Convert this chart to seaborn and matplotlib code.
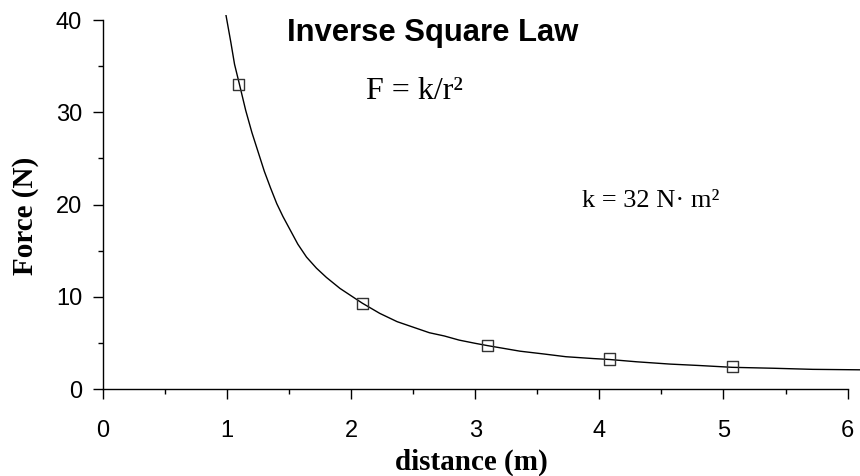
import matplotlib
matplotlib.use("Agg")
import matplotlib.pyplot as plt
from matplotlib.ticker import MultipleLocator
import seaborn as sns
import pandas as pd

# Measured forces at each separation
distance_m = [1.09, 2.09, 3.10, 4.08, 5.07]
force_n = [33.0, 9.3, 4.7, 3.25, 2.4]

# Fitted curve through the measurements
curve_r = [0.99, 1.03, 1.06, 1.10, 1.15, 1.20, 1.25, 1.30, 1.35, 1.40, 1.45,
           1.51, 1.57, 1.64, 1.72, 1.80, 1.91, 2.00, 2.09, 2.23, 2.37, 2.50,
           2.63, 2.75, 2.87, 3.00, 3.10, 3.36, 3.55, 3.73, 3.95, 4.08, 4.30,
           4.57, 4.80, 5.07, 5.40, 5.72, 6.10]
curve_f = [40.6, 37.6, 35.2, 33.0, 30.2, 27.8, 25.7, 23.6, 21.8, 20.1, 18.7,
           17.2, 15.7, 14.3, 13.1, 12.1, 10.9, 10.1, 9.3, 8.2, 7.3, 6.7,
           6.1, 5.75, 5.3, 4.95, 4.7, 4.1, 3.8, 3.5, 3.3, 3.2, 2.95,
           2.7, 2.55, 2.35, 2.25, 2.13, 2.08]

points = pd.DataFrame({"distance": distance_m, "force": force_n})
curve = pd.DataFrame({"distance": curve_r, "force": curve_f})

sns.set_style("ticks")
plt.rcParams["font.family"] = ["Liberation Sans", "DejaVu Sans"]
plt.rcParams.update({
    "text.color": "black",
    "axes.labelcolor": "black",
    "xtick.color": "black",
    "ytick.color": "black",
    "xtick.labelcolor": "black",
    "ytick.labelcolor": "black",
})

fig = plt.figure(figsize=(8.6, 4.76), dpi=100)
ax = fig.add_axes([103 / 860, 1 - 389 / 476, 757 / 860, 374.5 / 476])

sns.lineplot(data=curve, x="distance", y="force", ax=ax, color="black",
             linewidth=1.0, sort=True)
sns.scatterplot(data=points, x="distance", y="force", ax=ax, marker="s",
                s=64, facecolor="none", edgecolor="#333333", linewidth=1.0,
                zorder=3)

ax.set_xlim(0, 6.1)
ax.set_ylim(0, 40.6)
ax.spines["top"].set_visible(False)
ax.spines["right"].set_visible(False)
ax.spines["bottom"].set_bounds(0, 6)
ax.spines["left"].set_bounds(0, 40)
for s in ("left", "bottom"):
    ax.spines[s].set_linewidth(1.0)
    ax.spines[s].set_color("black")

ax.xaxis.set_major_locator(MultipleLocator(1))
ax.xaxis.set_minor_locator(MultipleLocator(0.5))
ax.yaxis.set_major_locator(MultipleLocator(10))
ax.yaxis.set_minor_locator(MultipleLocator(5))
ax.tick_params(axis="both", which="major", length=7, width=1.0,
               direction="out", labelsize=17, color="black")
ax.tick_params(axis="both", which="minor", length=3.5, width=1.0,
               direction="out", color="black")
ax.tick_params(axis="x", which="major", pad=15)
ax.tick_params(axis="y", which="major", pad=8)

ax.set_xlabel("distance (m)", fontfamily="Liberation Serif",
              fontweight="bold", fontsize=21)
ax.set_ylabel("Force (N)", fontfamily="Liberation Serif",
              fontweight="bold", fontsize=21)
ax.xaxis.set_label_coords(0.486, -0.16)
ax.yaxis.set_label_coords(-0.085, 0.463)

ax.text(2.655, 37.72, "Inverse Square Law", ha="center", va="baseline",
        fontsize=22.3, fontweight="bold", fontfamily="Liberation Sans")
ax.text(2.123, 31.4, "F = k/r²", ha="left", va="baseline",
        fontsize=23, fontfamily="Liberation Serif")
ax.text(3.857, 19.76, "k = 32 N· m²", ha="left", va="baseline",
        fontsize=19, fontfamily="Liberation Serif")

fig.savefig("out.png", dpi=100)
